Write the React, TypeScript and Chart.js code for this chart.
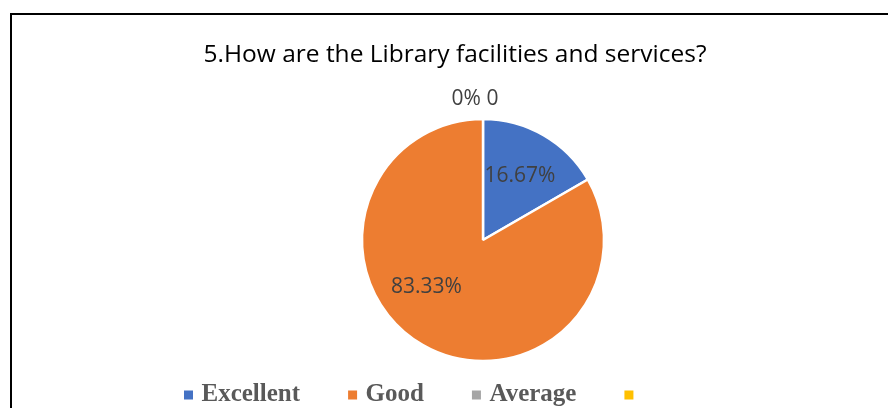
import React, { useEffect, useRef } from "react";
import { Chart, registerables } from "chart.js";

Chart.register(...registerables);

const titleText = "5.How are the Library facilities and services?";
const categories = ["Excellent", "Good", "Average", ""];
const values = [1, 5, 0, 0];
const colors = ["#4472C4", "#ED7D31", "#A5A5A5", "#FFC000"];
const labelAsPercent = [true, true, true, false];
const labelAngleShift = [0, 20, 0, 0];

export default function App() {
  const ref = useRef<HTMLCanvasElement>(null);

  useEffect(() => {
    if (!ref.current) return;
    const total = values.reduce((a, b) => a + b, 0);
    const labelText = values.map((v, i) =>
      labelAsPercent[i] ? ((v / total) * 100).toFixed(v === 0 ? 0 : 2) + "%" : String(v)
    );

    const textPlugin = {
      id: "textPlugin",
      afterDatasetsDraw(chart: any) {
        const ctx = chart.ctx;
        const meta = chart.getDatasetMeta(0);
        ctx.save();
        ctx.font = '21px "Open Sans"';
        ctx.fillStyle = "#404040";
        ctx.textAlign = "center";
        ctx.textBaseline = "middle";
        const zeroTexts: string[] = [];
        let zx = 0;
        let zy = 0;
        meta.data.forEach((arc: any, i: number) => {
          const { x, y, startAngle, endAngle, outerRadius } = arc.getProps(
            ["x", "y", "startAngle", "endAngle", "outerRadius"],
            true
          );
          if (values[i] === 0) {
            zeroTexts.push(labelText[i]);
            zx = x + Math.cos(startAngle) * (outerRadius + 20);
            zy = y + Math.sin(startAngle) * (outerRadius + 20);
            return;
          }
          const mid = (startAngle + endAngle) / 2 + (labelAngleShift[i] * Math.PI) / 180;
          const r = outerRadius * 0.61;
          ctx.fillText(labelText[i], x + Math.cos(mid) * r, y + Math.sin(mid) * r);
        });
        if (zeroTexts.length) ctx.fillText(zeroTexts.join(" "), zx - 8, zy);
        ctx.restore();
      },
      afterDraw(chart: any) {
        const ctx = chart.ctx;
        ctx.save();
        // title
        ctx.font = '24.5px "Open Sans"';
        ctx.fillStyle = "#000000";
        ctx.textAlign = "center";
        ctx.textBaseline = "alphabetic";
        ctx.fillText(titleText, 455, 62);
        // legend
        ctx.font = 'bold 25px "Liberation Serif"';
        ctx.textAlign = "left";
        let lx = 184;
        const baseY = 401;
        categories.forEach((c, i) => {
          ctx.fillStyle = colors[i];
          ctx.fillRect(lx, 390.5, 9, 9);
          ctx.fillStyle = "#595959";
          const tx = lx + 17.5;
          ctx.fillText(c, tx, baseY);
          lx = tx + ctx.measureText(c).width + 48;
        });
        ctx.restore();
      },
    };

    const chart = new Chart(ref.current, {
      type: "pie",
      data: {
        labels: categories,
        datasets: [
          {
            data: values,
            backgroundColor: colors,
            borderColor: "#ffffff",
            borderWidth: 2.5,
            radius: 121,
          } as any,
        ],
      },
      options: {
        animation: false,
        responsive: false,
        devicePixelRatio: 1,
        layout: { padding: { left: 100, right: 22, top: 90, bottom: 18 } },
        plugins: {
          legend: { display: false },
          title: { display: false },
          tooltip: { enabled: false },
        },
      },
      plugins: [textPlugin],
    });
    return () => chart.destroy();
  }, []);

  return (
    <div
      style={{
        position: "fixed",
        left: 0,
        top: 0,
        width: 888,
        height: 408,
        overflow: "hidden",
        background: "#ffffff",
      }}
    >
      <div
        style={{
          position: "absolute",
          left: 10,
          top: 13,
          width: 900,
          height: 500,
          borderLeft: "2px solid #000",
          borderTop: "2px solid #000",
        }}
      />
      <canvas
        ref={ref}
        width={888}
        height={408}
        style={{ position: "absolute", left: 0, top: 0, width: 888, height: 408 }}
      />
    </div>
  );
}
